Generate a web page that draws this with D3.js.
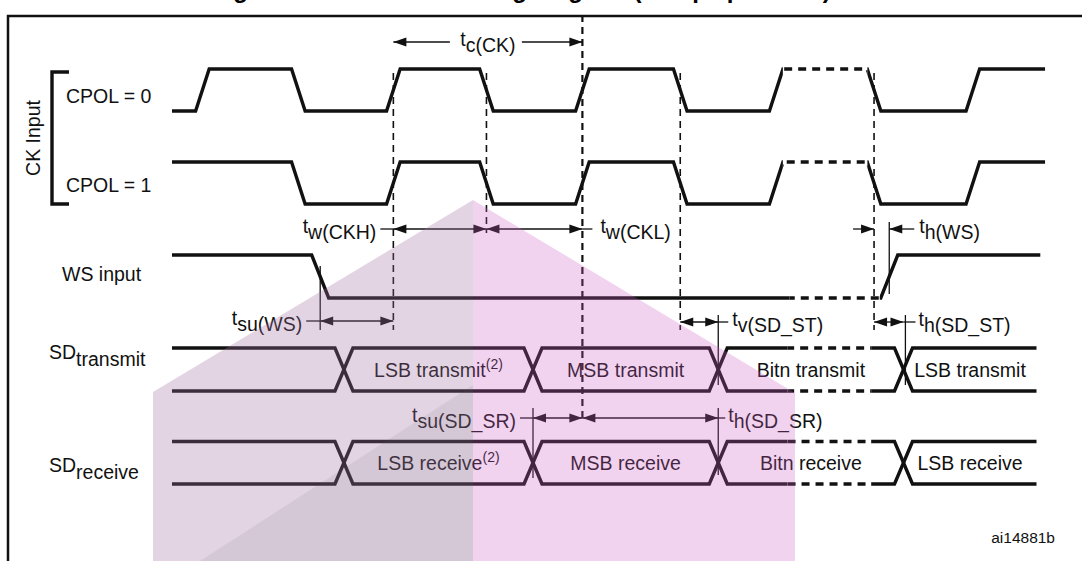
<!DOCTYPE html>
<html>
<head>
<meta charset="UTF-8">
<title>I2S slave timing</title>
<script src="https://cdn.jsdelivr.net/npm/d3@7/dist/d3.min.js"></script>
<style>
body{margin:0;background:#fff;}
svg{display:block;font-family:"Liberation Sans",Arial,sans-serif;}
.sig{fill:none;stroke:#111;stroke-width:3.4;stroke-linejoin:miter;}
.dash{stroke-dasharray:8,6;}
.ref{stroke:#111;stroke-width:1.6;stroke-dasharray:7,5;}
.thin{stroke:#111;stroke-width:1.3;fill:none;}
.lbl{font-size:19.5px;fill:#111;}
</style>
</head>
<body>
<div id="chart"></div>
<script>
// times, in tenths of a clock period (roughly)
var ckEdges = [1.6, 6.65, 11.65, 16.55, 21.6, 26.75, 31.8, 36.95, 42.15];
var ckDash = [32.15, 36.6];
var wsEdges = [7.8, 37.75];
var wsDash = [32.5, 37.25];
var busCross = [9.05, 19.0, 28.75, 38.5];
var busDash = [32.4, 36.8];
var txLabels = ["LSB transmit", "MSB transmit", "Bitn transmit", "LSB transmit"];
var rxLabels = ["LSB receive", "MSB receive", "Bitn receive", "LSB receive"];
var refEdges = [2, 3, 4, 5, 7];
var timingNames = ["c(CK)", "w(CKH)", "w(CKL)", "su(WS)", "h(WS)", "v(SD_ST)", "h(SD_ST)", "su(SD_SR)", "h(SD_SR)"];
var timingFrom = [11.65, 11.65, 16.55, 7.8, 36.95, 26.75, 36.95, 19.0, 21.6];
var timingTo = [21.6, 16.55, 21.6, 11.65, 37.75, 28.75, 38.5, 21.6, 28.75];

var W = 1082, H = 561;
var svg = d3.select("#chart").append("svg").attr("width", W).attr("height", H);
var x = d3.scaleLinear().domain([0, 46]).range([172, 1046]);
var line = d3.line();

// frame + title (cut by the top edge, as in the source picture)
svg.append("text").attr("x", 212).attr("y", -2)
  .style("font-size", "24px").style("font-weight", "bold")
  .text("Figure 194. I2S slave timing diagram (Philips protocol)");
svg.append("path").attr("d", "M8,561V16H1082").attr("fill", "none")
  .attr("stroke", "#111").attr("stroke-width", 2.5);

// row layout
var rows = {
  ck0: {hi: 69, lo: 111},
  ck1: {hi: 162, lo: 204},
  ws: {hi: 255, lo: 298},
  tx: {hi: 348, lo: 391},
  rx: {hi: 441.5, lo: 484}
};

var defs = svg.append("defs");
var clipN = 0;
function clips(d0, d1) {
  var a = "c" + (clipN++), b = "c" + (clipN++);
  var ca = defs.append("clipPath").attr("id", a);
  ca.append("rect").attr("x", 0).attr("y", 0).attr("width", x(d0)).attr("height", H);
  ca.append("rect").attr("x", x(d1)).attr("y", 0).attr("width", W).attr("height", H);
  defs.append("clipPath").attr("id", b).append("rect")
    .attr("x", x(d0)).attr("y", 0).attr("width", x(d1) - x(d0)).attr("height", H);
  return [a, b];
}
function drawSplit(d, dash) {
  var c = clips(dash[0], dash[1]);
  svg.append("path").attr("class", "sig").attr("d", d).attr("clip-path", "url(#" + c[0] + ")");
  svg.append("path").attr("class", "sig dash").attr("d", d).attr("clip-path", "url(#" + c[1] + ")");
}

function levelPath(t1, edges, high, r, hw) {
  var pts = [[x(0), high ? r.hi : r.lo]];
  edges.forEach(function(e) {
    pts.push([x(e) - hw, high ? r.hi : r.lo]);
    high = !high;
    pts.push([x(e) + hw, high ? r.hi : r.lo]);
  });
  pts.push([x(t1), high ? r.hi : r.lo]);
  return line(pts);
}

function busPath(t1, cross, r, hw, startTop) {
  var top = startTop;
  var pts = [[x(0), top ? r.hi : r.lo]];
  cross.forEach(function(c) {
    pts.push([x(c) - hw, top ? r.hi : r.lo]);
    top = !top;
    pts.push([x(c) + hw, top ? r.hi : r.lo]);
  });
  pts.push([x(t1), top ? r.hi : r.lo]);
  return line(pts);
}

// clocks
drawSplit(levelPath(45.95, ckEdges, false, rows.ck0, 6.8), ckDash);
drawSplit(levelPath(45.95, ckEdges.slice(1), true, rows.ck1, 6.8), ckDash);
// word select
drawSplit(levelPath(45.7, wsEdges, true, rows.ws, 8.5), wsDash);
// data buses
["tx", "rx"].forEach(function(k) {
  drawSplit(busPath(45.5, busCross, rows[k], 9, true), busDash);
  drawSplit(busPath(45.5, busCross, rows[k], 9, false), busDash);
});

// bus texts
function busText(labels, r, supIdx) {
  var mids = busCross.map(function(c, i) {
    return i < busCross.length - 1 ? (c + busCross[i + 1]) / 2 : (c + 45.5) / 2;
  });
  labels.forEach(function(s, i) {
    var t = svg.append("text").attr("class", "lbl").attr("text-anchor", "middle")
      .attr("x", x(mids[i])).attr("y", (r.hi + r.lo) / 2 + 7);
    t.append("tspan").text(s);
    if (i === supIdx) t.append("tspan").attr("dy", -8).style("font-size", "14px").text("(2)");
  });
}
busText(txLabels, rows.tx, 0);
busText(rxLabels, rows.rx, 0);

// dashed guide lines on clock edges
var refSpan = [[73, 330], [73, 233], [15, 420], [73, 330], [73, 330]];
refEdges.forEach(function(ei, i) {
  svg.append("line").attr("class", "ref")
    .attr("x1", x(ckEdges[ei])).attr("x2", x(ckEdges[ei]))
    .attr("y1", refSpan[i][0]).attr("y2", refSpan[i][1])
    .style("stroke-width", ei === 4 ? 2.2 : null);
});

// thin markers through transitions
var markers = [
  [wsEdges[0], 266, 330], [wsEdges[1], 222, 294],
  [busCross[2], 315, 385], [busCross[3] + 0.1, 315, 385],
  [busCross[1], 408, 478], [busCross[2], 408, 475]
];
markers.forEach(function(m) {
  svg.append("line").attr("class", "thin")
    .attr("x1", x(m[0])).attr("x2", x(m[0])).attr("y1", m[1]).attr("y2", m[2]);
});

// timing arrows
function head(px, py, dir) {
  svg.append("path").attr("fill", "#111")
    .attr("d", "M" + px + "," + py + "l" + (-dir * 13) + ",-4.5v9z");
}
function sym(tx, ty, name, anchor) {
  var t = svg.append("text").attr("class", "lbl").attr("x", tx).attr("y", ty)
    .attr("text-anchor", anchor);
  t.append("tspan").text("t");
  t.append("tspan").attr("dy", 6).text(name);
}
var tLayout = {
  "c(CK)": {y: 42, mode: "mid"},
  "w(CKH)": {y: 229, mode: "left", lead: 13},
  "w(CKL)": {y: 229, mode: "right", lead: 10, gap: 8},
  "su(WS)": {y: 321, mode: "left", lead: 14},
  "h(WS)": {y: 229, mode: "out", lead: 25, gap: 5},
  "v(SD_ST)": {y: 322, mode: "right", lead: 10, gap: 4},
  "h(SD_ST)": {y: 322, mode: "right", lead: 12, gap: 3},
  "su(SD_SR)": {y: 418, mode: "left", lead: 13},
  "h(SD_SR)": {y: 418, mode: "right", lead: 7, gap: 3}
};
timingNames.forEach(function(n, i) {
  var L = tLayout[n], x0 = x(timingFrom[i]), x1 = x(timingTo[i]), y = L.y;
  if (L.mode === "mid") {
    var xm = (x0 + x1) / 2;
    svg.append("line").attr("class", "thin").attr("x1", x0).attr("x2", xm - 38).attr("y1", y).attr("y2", y);
    svg.append("line").attr("class", "thin").attr("x1", xm + 34).attr("x2", x1).attr("y1", y).attr("y2", y);
    head(x0, y, -1); head(x1, y, 1);
    sym(xm, y + 4, n, "middle");
    return;
  }
  if (L.mode === "out") {
    svg.append("line").attr("class", "thin").attr("x1", x0 - 21).attr("x2", x0).attr("y1", y).attr("y2", y);
    svg.append("line").attr("class", "thin").attr("x1", x1).attr("x2", x1 + L.lead).attr("y1", y).attr("y2", y);
    head(x0, y, 1); head(x1, y, -1);
    sym(x1 + L.lead + L.gap, y + 4, n, "start");
    return;
  }
  svg.append("line").attr("class", "thin").attr("x1", x0).attr("x2", x1).attr("y1", y).attr("y2", y);
  head(x0, y, -1); head(x1, y, 1);
  if (L.mode === "left") {
    svg.append("line").attr("class", "thin").attr("x1", x0 - L.lead).attr("x2", x0).attr("y1", y).attr("y2", y);
    sym(x0 - L.lead - 4, y + 4, n, "end");
  } else {
    svg.append("line").attr("class", "thin").attr("x1", x1).attr("x2", x1 + L.lead).attr("y1", y).attr("y2", y);
    sym(x1 + L.lead + L.gap, y + 4, n, "start");
  }
});

// signal names
function lab(tx, ty, s) {
  return svg.append("text").attr("class", "lbl").attr("x", tx).attr("y", ty).text(s);
}
lab(66, 103, "CPOL = 0");
lab(66, 192, "CPOL = 1");
lab(62, 281, "WS input");
var sdt = lab(49, 359, "SD");
sdt.append("tspan").attr("dy", 7).text("transmit");
var sdr = lab(49, 472, "SD");
sdr.append("tspan").attr("dy", 7).text("receive");
svg.append("text").attr("class", "lbl").attr("text-anchor", "middle")
  .attr("transform", "translate(40,138) rotate(-90)").text("CK Input");
svg.append("path").attr("d", "M69,72H52V204H69").attr("fill", "none")
  .attr("stroke", "#111").attr("stroke-width", 3.4);
svg.append("text").attr("x", 1055).attr("y", 543).attr("text-anchor", "end")
  .style("font-size", "15.5px").attr("fill", "#111").text("ai14881b");

// faded logo watermark laid over the drawing
var wm = [
  {c: "rgb(161,113,161)", a: 0.3, p: [[153, 561], [153, 392], [473, 200], [473, 561]]},
  {c: "rgb(203,93,196)", a: 0.27, p: [[473, 200], [795, 393], [795, 561], [473, 561]]},
  {c: "rgb(100,100,110)", a: 0.1, p: [[200, 561], [473, 385], [473, 561]]}
];
wm.forEach(function(w) {
  svg.append("path").attr("d", line(w.p) + "Z").attr("fill", w.c).attr("fill-opacity", w.a);
});
</script>
</body>
</html>
